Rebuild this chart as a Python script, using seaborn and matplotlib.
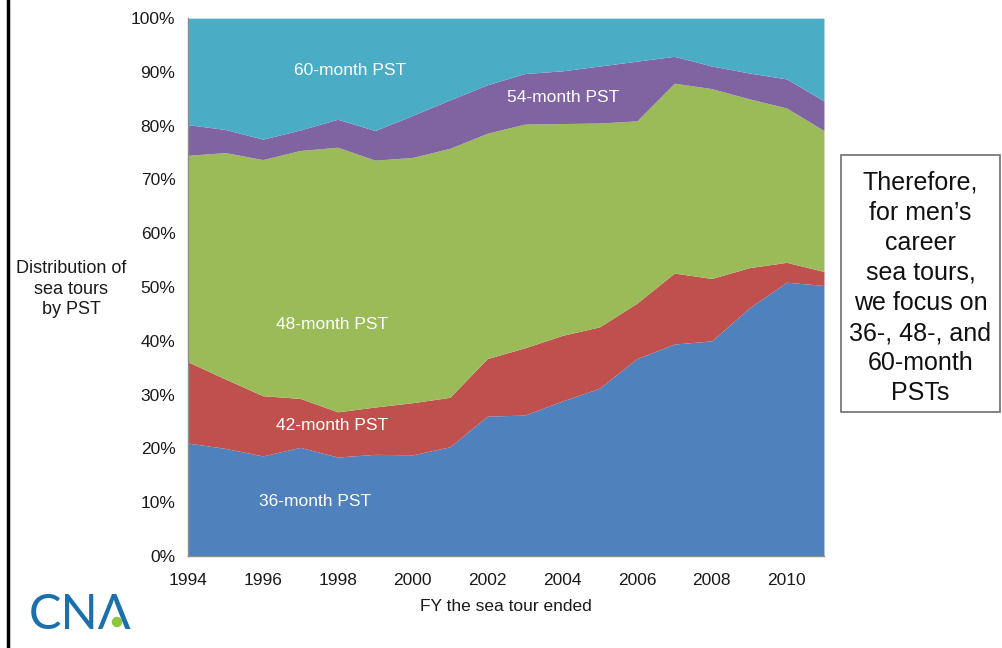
import seaborn as sns
import matplotlib.pyplot as plt
from matplotlib.patches import Rectangle, Circle
from matplotlib.lines import Line2D
from matplotlib.ticker import MultipleLocator, PercentFormatter

years = list(range(1994, 2012))

# share of sea tours (%) by PST length
pst36 = [21.0, 20.0, 18.6, 20.2, 18.4, 18.9, 18.8, 20.3, 26.0, 26.2, 28.8, 31.2, 36.7, 39.4, 40.0, 46.1, 50.9, 50.3]
pst42 = [15.1, 12.9, 11.2, 9.1, 8.4, 8.8, 9.7, 9.2, 10.7, 12.5, 12.2, 11.4, 10.3, 13.2, 11.6, 7.5, 3.7, 2.6]
pst48 = [38.4, 42.1, 43.9, 46.1, 49.2, 45.9, 45.6, 46.3, 41.9, 41.6, 39.4, 37.9, 33.9, 35.3, 35.3, 31.4, 28.7, 26.2]
pst54 = [5.7, 4.3, 3.8, 3.8, 5.2, 5.5, 7.8, 9.0, 9.0, 9.4, 9.8, 10.6, 11.1, 5.0, 4.2, 4.8, 5.4, 5.5]
pst60 = [19.8, 20.7, 22.5, 20.8, 18.8, 20.9, 18.1, 15.2, 12.4, 10.3, 9.8, 8.9, 8.0, 7.1, 8.9, 10.2, 11.3, 15.4]

labels = ['36-month PST', '42-month PST', '48-month PST', '54-month PST', '60-month PST']
colors = ['#4F81BD', '#C0504D', '#9BBB59', '#8064A2', '#4BACC6']

sns.set_style('white')
plt.rcParams['font.family'] = ['Liberation Sans', 'DejaVu Sans']

fig = plt.figure(figsize=(10.03, 6.48), dpi=100)
ax = fig.add_axes([0.1874, 0.142, 0.6341, 0.830])

ax.stackplot(years, pst36, pst42, pst48, pst54, pst60, colors=colors, linewidth=0)

ax.set_xlim(1994, 2011)
ax.set_ylim(0, 100)
ax.xaxis.set_major_locator(MultipleLocator(2))
ax.xaxis.set_minor_locator(MultipleLocator(1))
ax.yaxis.set_major_locator(MultipleLocator(10))
ax.yaxis.set_major_formatter(PercentFormatter(decimals=0))
ax.tick_params(axis='both', which='both', direction='out', length=5, width=1,
               color='#8c8c8c', labelsize=12.5, labelcolor='#1a1a1a', pad=4)
ax.tick_params(axis='x', which='minor', length=5)
ax.tick_params(axis='x', pad=7)
for s in ['top', 'right']:
    ax.spines[s].set_visible(False)
for s in ['left', 'bottom']:
    ax.spines[s].set_color('#8c8c8c')
    ax.spines[s].set_linewidth(1)

ax.set_xlabel('FY the sea tour ended', fontsize=12.5, color='#1a1a1a', labelpad=8)

# series labels inside the areas
lab_x = [1997.4, 1997.85, 1997.85, 2004.03, 1998.33]
lab_y = [10.2, 24.3, 43.1, 85.3, 90.3]
for t, x, y in zip(labels, lab_x, lab_y):
    ax.text(x, y, t, color='white', fontsize=12.5, ha='center', va='center')

fig.text(0.071, 0.554, 'Distribution of\nsea tours\nby PST', fontsize=13, ha='center',
         va='center', linespacing=1.3, color='#1a1a1a')

# right-hand note box
fig.patches.append(Rectangle((841 / 1003, 1 - 412 / 648), 159 / 1003, 257 / 648,
                             transform=fig.transFigure, fill=False,
                             edgecolor='#6e6e6e', linewidth=1.2))
fig.text(920.5 / 1003, 1 - 288 / 648,
         'Therefore,\nfor men\u2019s\ncareer\nsea tours,\nwe focus on\n36-, 48-, and\n60-month\nPSTs',
         fontsize=18, ha='center', va='center', linespacing=1.32, color='#111111')

# CNA logo
fig.text(29 / 1003, 1 - 615 / 648, 'CN\u039b', fontsize=35, color='#1B70AC',
         family=['Lato', 'DejaVu Sans'], fontweight='normal', ha='left', va='center')
fig.patches.append(Circle((117 / 100, (648 - 622) / 100), 0.045,
                          transform=fig.dpi_scale_trans, color='#8DC63F'))

# frame line at the left edge
fig.lines.append(Line2D([8 / 1003, 8 / 1003], [0, 1], transform=fig.transFigure,
                        color='black', linewidth=2.5))

fig.savefig('out.png', dpi=100)
